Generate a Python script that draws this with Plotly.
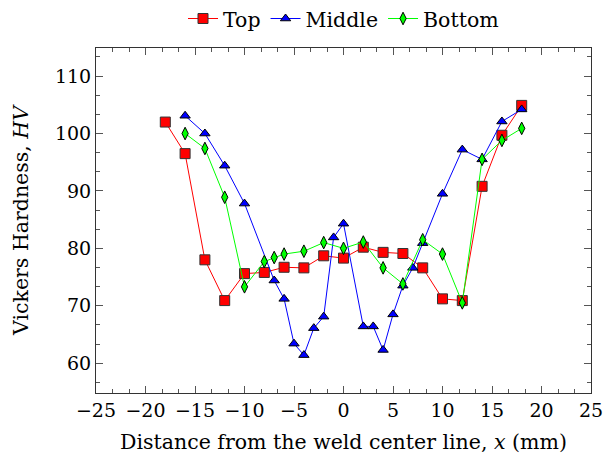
import plotly.graph_objects as go

# Data
top_x = [-18, -16, -14, -12, -10, -8, -6, -4, -2, 0, 2, 4, 6, 8, 10, 12, 14, 16, 18]
top_y = [102.0, 96.5, 78.0, 70.9, 75.6, 75.8, 76.7, 76.6, 78.7, 78.3, 80.2, 79.3, 79.1, 76.6, 71.2, 70.9, 90.8, 99.7, 104.9]

mid_x = [-16, -14, -12, -10, -7, -6, -5, -4, -3, -2, -1, 0, 2, 3, 4, 5, 6, 7, 8, 10, 12, 14, 16, 18]
mid_y = [103.1, 100.0, 94.4, 87.8, 74.4, 71.2, 63.4, 61.4, 66.1, 68.1, 81.9, 84.3, 66.4, 66.4, 62.3, 68.5, 73.5, 76.6, 80.9, 89.5, 97.2, 95.5, 102.1, 104.2]

bot_x = [-16, -14, -12, -10, -8, -7, -6, -4, -2, 0, 2, 4, 6, 8, 10, 12, 14, 16, 18]
bot_y = [100.0, 97.4, 88.9, 73.3, 77.7, 78.4, 79.0, 79.5, 81.0, 80.0, 81.1, 76.6, 73.8, 81.5, 79.0, 70.5, 95.5, 98.8, 100.9]

x_ticks = [-25, -20, -15, -10, -5, 0, 5, 10, 15, 20, 25]
y_ticks = [60, 70, 80, 90, 100, 110]

FONT = "DejaVu Serif"
FS = 19
FT = 20.5

fig = go.Figure()
fig.add_trace(go.Scatter(
    x=top_x, y=top_y, name="Top", mode="lines+markers",
    line=dict(color="#ff0000", width=1),
    marker=dict(symbol="square", size=10, color="#ff0000",
                line=dict(color="#333333", width=1)),
))
fig.add_trace(go.Scatter(
    x=mid_x, y=mid_y, name="Middle", mode="lines+markers",
    line=dict(color="#0000ff", width=1),
    marker=dict(symbol="triangle-up", size=9, color="#0000ff",
                line=dict(color="#000000", width=1)),
))
fig.add_trace(go.Scatter(
    x=bot_x, y=bot_y, name="Bottom", mode="lines+markers",
    line=dict(color="#00ff00", width=1),
    marker=dict(symbol="diamond-tall", size=9, color="#00ff00",
                line=dict(color="#000000", width=1)),
))

axis_common = dict(
    showline=True, linecolor="#333333", linewidth=1, mirror="allticks",
    ticks="inside", ticklen=7, tickwidth=1, tickcolor="#555555",
    showgrid=False, zeroline=False,
    tickfont=dict(family=FONT, size=FS, color="black"),
)

fig.update_xaxes(
    range=[-25, 25], tickvals=x_ticks,
    ticktext=[("\u2212" + str(-v)) if v < 0 else str(v) for v in x_ticks],
    minor=dict(ticks="inside", ticklen=4, dtick=5 / 3, tick0=-25, tickcolor="#555555", showgrid=False),
    title=dict(text="Distance from the weld center line, <i>x</i> (mm)",
               font=dict(family=FONT, size=FT, color="black"), standoff=14),
    **axis_common,
)
fig.update_yaxes(
    range=[54.8, 114.9], tickvals=y_ticks,
    minor=dict(ticks="inside", ticklen=4, dtick=10 / 3, tick0=60, tickcolor="#555555", showgrid=False),
    title=dict(text="Vickers Hardness, <i>HV</i>",
               font=dict(family=FONT, size=FT, color="black"), standoff=20),
    **axis_common,
)

fig.update_layout(
    width=605, height=463,
    margin=dict(l=96, r=14, t=48, b=70, autoexpand=False),
    plot_bgcolor="white", paper_bgcolor="white",
    legend=dict(orientation="h", x=0.5, xanchor="center", y=1.085, yanchor="middle",
                font=dict(family=FONT, size=FT, color="black"),
                itemwidth=30, tracegroupgap=0, bgcolor="rgba(0,0,0,0)"),
    showlegend=True,
)

fig.write_html("out.html")
